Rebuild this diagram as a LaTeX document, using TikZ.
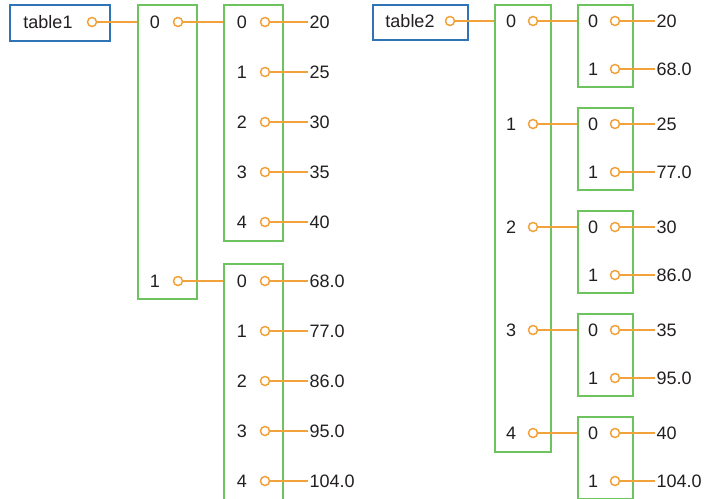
\documentclass[tikz,border=0pt]{standalone}
\usepackage{fontspec}
\setmainfont{Liberation Sans}
\definecolor{orng}{HTML}{F2A23A}
\definecolor{grn}{HTML}{6DC35E}
\definecolor{blu}{HTML}{2F74B5}
\definecolor{txt}{HTML}{231F20}
\begin{document}
\begin{tikzpicture}[x=1pt,y=-1pt,
  every node/.style={font=\fontsize{18}{20}\selectfont, text=txt},
  lbl/.style={inner sep=0pt, anchor=center},
  port/.style={circle, draw=orng, fill=white, line width=1.5pt, minimum size=9pt, inner sep=0pt},
  val/.style={anchor=west, inner sep=1.5pt},
  link/.style={draw=orng, line width=1.5pt},
  listbox/.style={draw=grn, line width=1.6pt, inner sep=0pt, anchor=north west},
  namebox/.style={draw=blu, line width=1.6pt, inner sep=0pt, anchor=north west}]
\useasboundingbox (0,0) rectangle (704,498);
\clip (0,0) rectangle (704,498);

% ---------- left: table1 ----------
\node[namebox, minimum width=100pt, minimum height=36pt] (T1) at (9,4) {};
\node[lbl] (t1) at (48,22) {table1};
\node[listbox, minimum width=59pt, minimum height=294pt] (L1) at (137,4) {};
\node[listbox, minimum width=59pt, minimum height=236pt] (A) at (223,4) {};
\node[listbox, minimum width=59pt, minimum height=250pt] (B) at (223,263) {};
\node[port] (t1p) at (92,22) {};
\draw[link] (t1p) -- (t1p -| L1.west);

\node[lbl] (l1a) at (155,22) {0};
\node[port] (l1pa) at (178,22) {};
\node[lbl] (l1b) at (155,281) {1};
\node[port] (l1pb) at (178,281) {};
\draw[link] (l1pa) -- (l1pa -| A.west);
\draw[link] (l1pb) -- (l1pb -| B.west);

\foreach \i/\v in {0/20,1/25,2/30,3/35,4/40} {
  \node[lbl] (al\i) at (242,22+50*\i) {\i};
  \node[port] (ap\i) at (265,22+50*\i) {};
  \node[val] (av\i) at (308,22+50*\i) {\v};
  \draw[link] (ap\i) -- (av\i.west);
}
\foreach \i/\v in {0/68.0,1/77.0,2/86.0,3/95.0,4/104.0} {
  \node[lbl] (bl\i) at (242,281+50*\i) {\i};
  \node[port] (bp\i) at (265,281+50*\i) {};
  \node[val] (bv\i) at (308,281+50*\i) {\v};
  \draw[link] (bp\i) -- (bv\i.west);
}

% ---------- right: table2 ----------
\node[namebox, minimum width=95pt, minimum height=35pt] (T2) at (372,4) {};
\node[lbl] (t2) at (410,21) {table2};
\node[listbox, minimum width=56pt, minimum height=447pt] (L2) at (494,4) {};
\node[port] (t2p) at (450,21) {};
\draw[link] (t2p) -- (t2p -| L2.west);

\foreach \k/\a/\b in {0/20/68.0,1/25/77.0,2/30/86.0,3/35/95.0,4/40/104.0} {
  \node[lbl] (ml\k) at (511,21+103*\k) {\k};
  \node[port] (mp\k) at (533,21+103*\k) {};
  \node[listbox, minimum width=55pt, minimum height=82pt] (C\k) at (577,4+103*\k) {};
  \draw[link] (mp\k) -- (mp\k -| C\k.west);
  \node[lbl] (cl\k a) at (593,21+103*\k) {0};
  \node[port] (cp\k a) at (615,21+103*\k) {};
  \node[val] (cv\k a) at (655,21+103*\k) {\a};
  \draw[link] (cp\k a) -- (cv\k a.west);
  \node[lbl] (cl\k b) at (593,69+103*\k) {1};
  \node[port] (cp\k b) at (615,69+103*\k) {};
  \node[val] (cv\k b) at (655,69+103*\k) {\b};
  \draw[link] (cp\k b) -- (cv\k b.west);
}
\end{tikzpicture}
\end{document}
